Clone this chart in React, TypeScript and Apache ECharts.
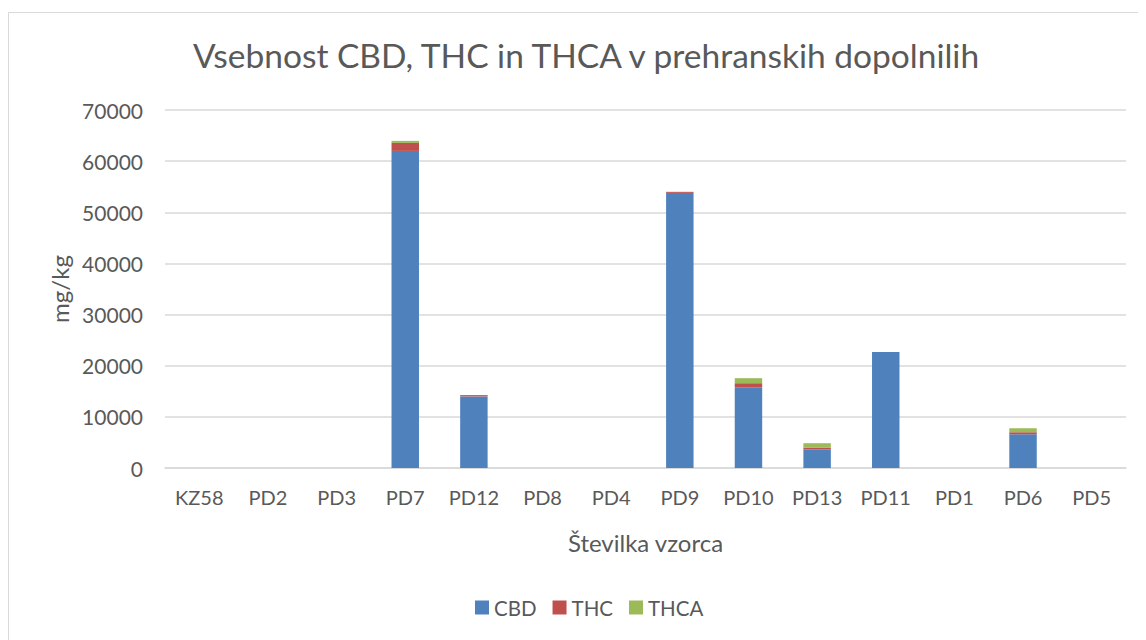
import React, { useEffect, useRef } from "react";
import * as echarts from "echarts";

const categories = ["KZ58", "PD2", "PD3", "PD7", "PD12", "PD8", "PD4", "PD9", "PD10", "PD13", "PD11", "PD1", "PD6", "PD5"];
const cbd = [0, 0, 0, 62000, 14000, 0, 0, 53800, 15800, 3600, 22700, 0, 6600, 0];
const thc = [0, 0, 0, 1560, 250, 0, 0, 200, 780, 400, 0, 0, 400, 0];
const thca = [0, 0, 0, 400, 0, 0, 0, 0, 980, 850, 0, 0, 780, 0];

const FONT = "Lato, 'Noto Sans', sans-serif";
const TXT = "#595959";

export default function App() {
  const ref = useRef<HTMLDivElement>(null);
  useEffect(() => {
    if (!ref.current) return;
    const chart = echarts.init(ref.current, null, { renderer: "svg" });
    chart.setOption({
      animation: false,
      backgroundColor: "#fff",
      textStyle: { fontFamily: FONT },
      graphic: [
        {
          type: "rect",
          shape: { x: 0.5, y: 4.5, width: 1132, height: 700 },
          style: { fill: "none", stroke: "#D9D9D9", lineWidth: 1 },
          silent: true,
        },
      ],
      title: {
        text: "Vsebnost CBD, THC in THCA v prehranskih dopolnilih",
        left: 573,
        textAlign: "center",
        top: 25,
        textStyle: { fontFamily: FONT, fontSize: 33.5, fontWeight: "normal", color: TXT },
      },
      legend: {
        bottom: 17,
        left: 462,
        itemWidth: 14,
        itemHeight: 14,
        itemGap: 16,
        icon: "rect",
        textStyle: { fontFamily: FONT, fontSize: 20.5, color: TXT },
        data: ["CBD", "THC", "THCA"],
      },
      grid: { left: 157, right: 20, top: 102, bottom: 172 },
      xAxis: {
        type: "category",
        data: categories,
        name: "Številka vzorca",
        nameLocation: "middle",
        nameGap: 62,
        nameTextStyle: { fontFamily: FONT, fontSize: 24, color: TXT },
        axisLine: { lineStyle: { color: "#D9D9D9", width: 1.5 } },
        axisTick: { show: false },
        axisLabel: { fontFamily: FONT, fontSize: 20, color: TXT, margin: 19 },
      },
      yAxis: {
        type: "value",
        min: 0,
        max: 70000,
        interval: 10000,
        name: "mg/kg",
        nameLocation: "middle",
        nameGap: 88,
        nameTextStyle: { fontFamily: FONT, fontSize: 24, color: TXT },
        axisLine: { show: false },
        axisTick: { show: false },
        axisLabel: { fontFamily: FONT, fontSize: 21, color: TXT, margin: 22, formatter: (v: number) => String(v) },
        splitLine: { lineStyle: { color: "#D9D9D9", width: 1.5 } },
      },
      series: [
        { name: "CBD", type: "bar", stack: "a", data: cbd, barWidth: "40%", itemStyle: { color: "#4F81BD" } },
        { name: "THC", type: "bar", stack: "a", data: thc, itemStyle: { color: "#C0504D" } },
        { name: "THCA", type: "bar", stack: "a", data: thca, itemStyle: { color: "#9BBB59" } },
      ],
    });
    return () => chart.dispose();
  }, []);
  return <div ref={ref} style={{ width: 1138, height: 632 }} />;
}
